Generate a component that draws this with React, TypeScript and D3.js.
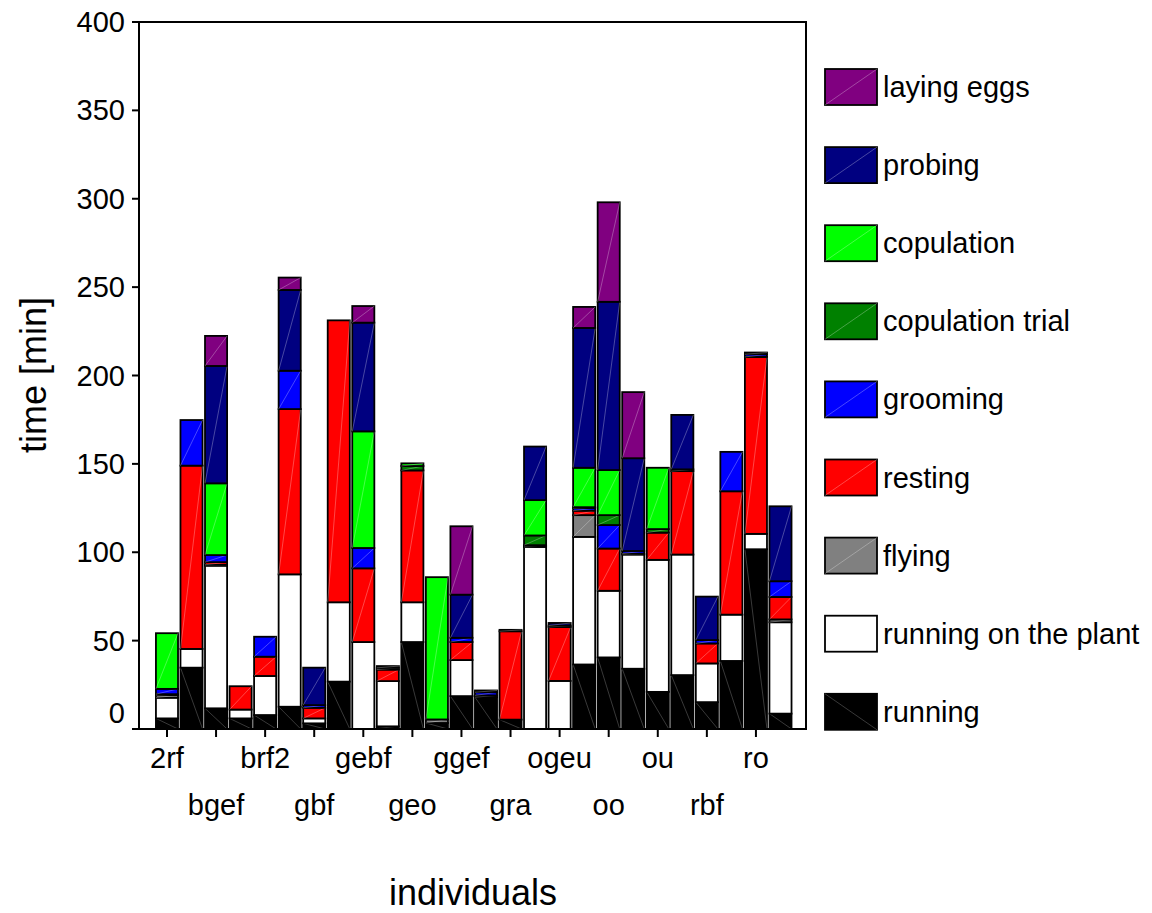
import React from "react";
import * as d3 from "d3";

// 26 individuals; only every other one carries a tick label in the figure
const individuals = [
  "2rf", "", "bgef", "", "brf2", "", "gbf", "", "gebf", "", "geo", "", "ggef",
  "", "gra", "", "ogeu", "", "oo", "", "ou", "", "rbf", "", "ro", "",
];

const running = [6, 34.7, 11.7, 6, 7.9, 12.6, 3.2, 26.8, 0, 1.5, 49.2, 3.4, 18.6, 18, 5.3, 0, 0, 36.5, 40.5, 34.1, 21, 30.5, 15.2, 38.5, 101.7, 8.7];
const runningOnPlant = [11.7, 10.6, 80.7, 5, 22.1, 74.9, 2.8, 44.9, 49.2, 25.6, 22.5, 0, 20.4, 0, 0, 103, 27.2, 72.2, 37.7, 64.6, 74.7, 68.2, 21.9, 26.2, 8.7, 51.7];
const flying = [1.5, 0, 0.5, 0, 0, 0, 0, 0, 0, 0, 0, 2, 0, 0, 0, 0, 0, 12.3, 0, 0, 0, 0, 0, 0, 0, 1.6];
const resting = [0.5, 103.7, 1.5, 13.2, 10.9, 93.5, 6, 159.5, 41.7, 6.5, 74.6, 0, 10.2, 1, 50, 0.5, 30.5, 2.5, 23.9, 0.5, 15.4, 47.2, 11.3, 69.8, 100.1, 12.7];
const grooming = [3, 25.8, 4, 0, 11.3, 21.7, 1.5, 0, 11.5, 1, 0, 0, 2.4, 1.8, 0, 0.5, 0.8, 1.5, 13.3, 1.5, 0, 1, 1.9, 22.3, 1.5, 8.9];
const copulationTrial = [0, 0, 0, 0, 0, 0, 0, 0, 0, 0, 2.5, 0, 0, 0, 0, 5.5, 0, 0.5, 5.6, 0, 2, 0, 0, 0, 0, 0];
const copulation = [31.5, 0, 40.6, 0, 0, 0, 0, 0, 66, 0, 1.5, 80.5, 0, 0, 0, 20, 0, 22.3, 25.5, 0, 34.7, 0, 0, 0, 0, 0];
const probing = [0, 0, 66.4, 0, 0, 45.7, 21.2, 0, 61.5, 1, 0, 0, 24.4, 1, 0.8, 30.3, 1.5, 79.1, 95.2, 52.5, 0, 30.8, 24.6, 0, 1, 42.4];
const layingEggs = [0, 0, 17, 0, 0, 7, 0, 0, 9.4, 0, 0, 0, 38.7, 0, 0, 0, 0, 11.9, 56.3, 37.4, 0, 0, 0, 0, 0, 0];

const yTicks = [0, 50, 100, 150, 200, 250, 300, 350, 400];

// stacking order bottom -> top
const seriesNames = [
  "running", "running on the plant", "flying", "resting", "grooming",
  "copulation trial", "copulation", "probing", "laying eggs",
];
const seriesValues = [
  running, runningOnPlant, flying, resting, grooming,
  copulationTrial, copulation, probing, layingEggs,
];
const seriesColors = [
  "#000000", "#ffffff", "#808080", "#ff0000", "#0000ff",
  "#008000", "#00ff00", "#000080", "#800080",
];

const W = 1152;
const H = 913;
const left = 139;
const right = 806;
const top = 22;
const bottom = 729;
const FONT = "'Liberation Sans', Arial, sans-serif";

export default function App() {
  const n = individuals.length;
  const x = d3.scaleLinear().domain([-1.14, n + 0.04]).range([left, right]);
  const y = d3.scaleLinear().domain([0, 400]).range([bottom, top]);
  const barW = (x(1) - x(0)) * 0.9;

  const table = individuals.map((name, i) => {
    const row: any = { idx: i };
    seriesNames.forEach((s, k) => (row[s] = seriesValues[k][i]));
    return row;
  });
  const stacked = d3.stack().keys(seriesNames)(table);

  const legendOrder = [...seriesNames].reverse();

  return (
    <svg
      width={W}
      height={H}
      style={{ position: "absolute", left: 0, top: 0, background: "#fff" }}
      fontFamily={FONT}
    >
      {/* bars */}
      {stacked.map((layer, k) =>
        layer.map((d, i) => {
          const v = d[1] - d[0];
          if (v <= 0) return null;
          const x0 = x(i) - barW / 2;
          const x1 = x(i) + barW / 2;
          const y0 = y(d[0]);
          const y1 = y(d[1]);
          const col = seriesColors[k];
          return (
            <g key={`${k}-${i}`}>
              <rect
                x={x0}
                y={y1}
                width={barW}
                height={y0 - y1}
                fill={col}
                stroke="#000"
                strokeWidth={1.8}
              />
              {col === "#000000" ? (
                <line x1={x0} y1={y1} x2={x1} y2={y0} stroke="#888" strokeWidth={0.7} opacity={0.6} />
              ) : col !== "#ffffff" ? (
                <line x1={x0} y1={y0} x2={x1} y2={y1} stroke="#fff" strokeWidth={0.7} opacity={0.4} />
              ) : null}
            </g>
          );
        })
      )}

      {/* frame */}
      <rect x={left} y={top} width={right - left} height={bottom - top} fill="none" stroke="#000" strokeWidth={2} />

      {/* y axis ticks */}
      {yTicks.map((t) => (
        <g key={t}>
          <line x1={left - 7} x2={left} y1={y(t)} y2={y(t)} stroke="#000" strokeWidth={2} />
          <text
            x={125}
            y={t === 0 ? 713 : y(t)}
            textAnchor="end"
            dominantBaseline="central"
            fontSize={29}
          >
            {t}
          </text>
        </g>
      ))}

      {/* x axis ticks and labels */}
      {individuals.map((name, i) =>
        i % 2 === 0 ? (
          <g key={i}>
            <line x1={x(i)} x2={x(i)} y1={bottom} y2={bottom + 8} stroke="#000" strokeWidth={2} />
            <text
              x={x(i)}
              y={(i / 2) % 2 === 0 ? 768 : 815}
              textAnchor="middle"
              fontSize={29}
            >
              {name}
            </text>
          </g>
        ) : null
      )}

      {/* axis titles */}
      <text transform={`translate(46,375) rotate(-90)`} textAnchor="middle" fontSize={36}>
        time [min]
      </text>
      <text x={473} y={905} textAnchor="middle" fontSize={36}>
        individuals
      </text>

      {/* legend */}
      {legendOrder.map((s, j) => {
        const k = seriesNames.indexOf(s);
        const col = seriesColors[k];
        const ly = 69 + j * 78.1;
        return (
          <g key={s}>
            <rect x={825} y={ly} width={52} height={36} fill={col} stroke="#000" strokeWidth={1.8} />
            {col === "#000000" ? (
              <line x1={825} y1={ly} x2={877} y2={ly + 36} stroke="#888" strokeWidth={0.7} opacity={0.6} />
            ) : col !== "#ffffff" ? (
              <line x1={825} y1={ly + 36} x2={877} y2={ly} stroke="#fff" strokeWidth={0.7} opacity={0.4} />
            ) : null}
            <text x={883} y={ly + 18} dominantBaseline="central" fontSize={29}>
              {s}
            </text>
          </g>
        );
      })}
    </svg>
  );
}
